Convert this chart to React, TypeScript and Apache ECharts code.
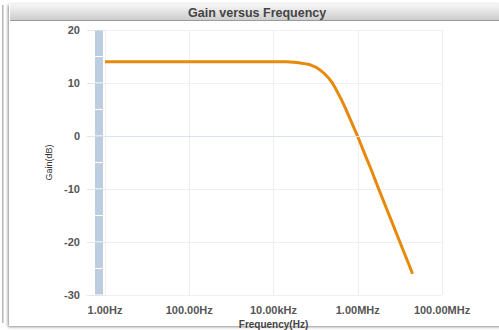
import React, { useEffect, useRef } from "react";
import * as echarts from "echarts";

const frequencies = [1, 10, 100, 1000, 10000, 20000, 30000, 40000, 50000, 70000, 100000, 130000, 160000, 200000, 250000, 300000, 400000, 500000, 700000, 1000000, 1500000, 2000000, 3000000, 5000000, 7000000, 10000000, 15000000, 20000000];
const gainDb = [14, 14, 14, 14, 14, 14, 13.9, 13.8, 13.7, 13.5, 13.0, 12.4, 11.8, 11.0, 10.0, 8.9, 7.0, 5.4, 2.7, -0.1, -3.6, -6.0, -9.6, -14.0, -16.9, -20.0, -23.5, -26.0];
const rangeSegments = [1, 1, 1, 1, 1, 1, 1, 1, 1, 1];
const segmentNames = ["s1", "s2", "s3", "s4", "s5", "s6", "s7", "s8", "s9", "s10"];

function fmtFreq(v: number): string {
  if (v >= 1e6) return (v / 1e6).toFixed(2) + "MHz";
  if (v >= 1e3) return (v / 1e3).toFixed(2) + "kHz";
  return v.toFixed(2) + "Hz";
}

export default function App() {
  const ref = useRef<HTMLDivElement>(null);
  useEffect(() => {
    if (!ref.current) return;
    const chart = echarts.init(ref.current, undefined, { renderer: "svg" });
    const font = "'Liberation Sans', Arial, sans-serif";
    chart.setOption({
      animation: false,
      backgroundColor: "#ffffff",
      textStyle: { fontFamily: font },
      graphic: [
        { type: "rect", z: -10, shape: { x: 2, y: 5, width: 1.5, height: 318 }, style: { fill: "#b5b5b5" } },
        {
          type: "rect", z: -10, shape: { x: 9, y: 4, width: 495, height: 322 },
          style: { fill: "#ffffff", shadowBlur: 3, shadowColor: "rgba(0,0,0,0.45)", shadowOffsetX: -1, shadowOffsetY: 1 },
        },
        {
          type: "rect", z: -9, shape: { x: 10, y: 4, width: 489, height: 16 },
          style: {
            fill: new echarts.graphic.LinearGradient(0, 0, 0, 1, [
              { offset: 0, color: "#f7f7f7" },
              { offset: 1, color: "#cdcdcd" },
            ]),
          },
        },
        { type: "rect", z: -9, shape: { x: 10, y: 20, width: 489, height: 1 }, style: { fill: "#9a9a9a" } },
        {
          type: "text", left: 258 - 70, top: 6, z: 5,
          style: { text: "Gain versus Frequency", fill: "#444", font: `bold 12.5px ${font}`, width: 140, align: "center" },
        },
      ],
      grid: [
        { left: 105, right: 57, top: 30, bottom: 35, outerBoundsMode: "none", containLabel: false },
        { left: 95, width: 8, top: 30, height: 265, outerBoundsMode: "none", containLabel: false },
      ],
      xAxis: [
        {
          type: "log", gridIndex: 0, logBase: 10, min: 1, max: 1e8, interval: 2, splitNumber: 4,
          name: "Frequency(Hz)", nameLocation: "middle", nameGap: 19,
          nameTextStyle: { color: "#444", fontSize: 10, fontWeight: "bold", fontFamily: font },
          axisLine: { show: true, lineStyle: { color: "#d3dae4", width: 1 } },
          axisTick: { show: false },
          minorTick: { show: false },
          axisLabel: { color: "#555", fontSize: 11, fontWeight: "bold", fontFamily: font, margin: 9, formatter: (v: number) => fmtFreq(v) },
          splitLine: { show: true, lineStyle: { color: "#eceef2" } },
        },
        { type: "value", gridIndex: 1, min: 0, max: 1, show: false },
      ],
      yAxis: [
        {
          type: "value", gridIndex: 0, min: -30, max: 20, interval: 10,
          name: "Gain(dB)", nameLocation: "middle", nameGap: 43, nameRotate: 90,
          nameTextStyle: { color: "#333", fontSize: 9, fontFamily: font },
          axisLine: { show: true, lineStyle: { color: "#eceef2" } },
          axisTick: { show: true, length: 18, lineStyle: { color: "#e3e7ed" } },
          axisLabel: { color: "#555", fontSize: 11, fontWeight: "bold", fontFamily: font, margin: 25 },
          splitLine: { show: true, lineStyle: { color: "#eef0f3" } },
        },
        {
          type: "category", gridIndex: 1, show: false, data: segmentNames, boundaryGap: true,
        },
      ],
      series: [
        {
          type: "bar", xAxisIndex: 1, yAxisIndex: 1, data: rangeSegments, barCategoryGap: "4%",
          itemStyle: { color: "#bccddf" }, silent: true,
        },
        {
          type: "line", xAxisIndex: 0, yAxisIndex: 0,
          data: frequencies.map((f, i) => [f, gainDb[i]]),
          showSymbol: false, smooth: false,
          lineStyle: { color: "#e8890c", width: 3, join: "round" },
          itemStyle: { color: "#e8890c" },
          markLine: {
            silent: true, symbol: "none", label: { show: false },
            lineStyle: { color: "#dde3ec", type: "solid", width: 1 },
            data: [{ yAxis: 0 }],
          },
          z: 3,
        },
      ],
    });
    return () => chart.dispose();
  }, []);
  return <div ref={ref} style={{ position: "absolute", left: 0, top: 0, width: 499, height: 330 }} />;
}
